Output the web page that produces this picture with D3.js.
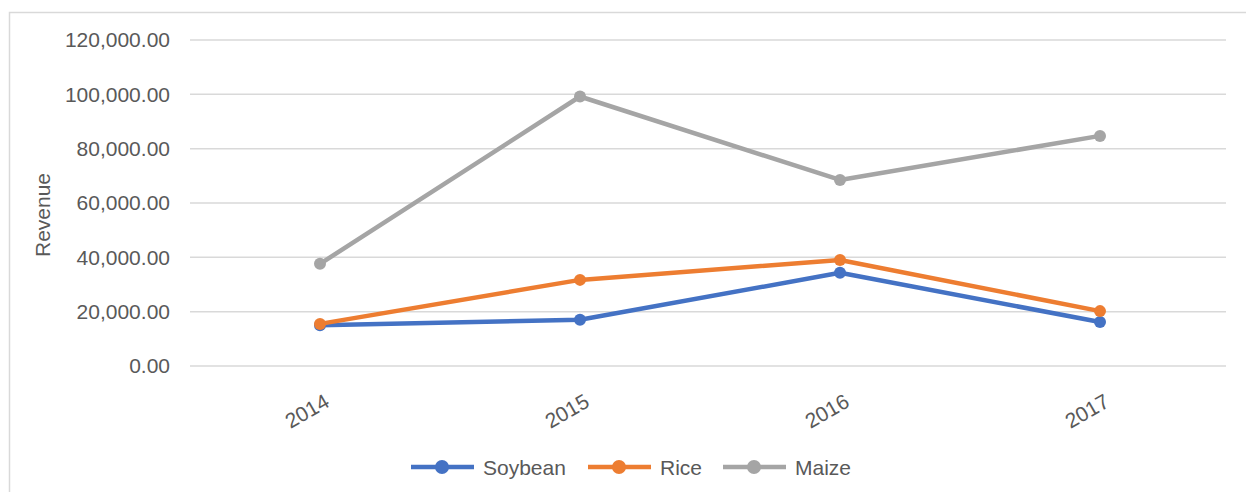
<!DOCTYPE html>
<html>
<head>
<meta charset="utf-8">
<script src="https://cdn.jsdelivr.net/npm/d3@7"></script>
<style>
  body { margin: 0; background: #fff; }
  svg text { font-family: "Liberation Sans", Arial, sans-serif; fill: #595959; }
</style>
</head>
<body>
<svg id="chart"></svg>
<script>
// values
const years = ['2014', '2015', '2016', '2017']
const soybean = [15000, 17000, 34300, 16200]
const rice = [15500, 31700, 39000, 20200]
const maize = [37600, 99200, 68500, 84700]
const yTicks = [0, 20000, 40000, 60000, 80000, 100000, 120000]

const series = [
  { name: 'Soybean', values: soybean, color: '#4472C4' },
  { name: 'Rice', values: rice, color: '#ED7D31' },
  { name: 'Maize', values: maize, color: '#A5A5A5' }
]

const width = 1246, height = 492
const svg = d3.select('#chart').attr('width', width).attr('height', height)

// chart border
svg.append('rect')
  .attr('x', 9.5).attr('y', 12.5)
  .attr('width', width).attr('height', height)
  .attr('fill', 'none').attr('stroke', '#d9d9d9').attr('stroke-width', 1.5)

const x = d3.scalePoint().domain(years).range([320, 1100])
const y = d3.scaleLinear().domain([0, 120000]).range([366, 40])

// gridlines
svg.append('g').selectAll('line').data(yTicks).join('line')
  .attr('x1', 190).attr('x2', 1226)
  .attr('y1', d => y(d)).attr('y2', d => y(d))
  .attr('stroke', '#d9d9d9').attr('stroke-width', 1.5)

// y axis labels
const yAxis = d3.axisLeft(y).tickValues(yTicks).tickSize(0).tickPadding(0)
  .tickFormat(d3.format(',.2f'))
const gy = svg.append('g').attr('transform', 'translate(170,0)').call(yAxis)
gy.select('.domain').remove()
gy.selectAll('text').attr('font-size', 21).attr('fill', '#595959')
  .attr('font-family', '"Liberation Sans", Arial, sans-serif')

// x axis labels, rotated
const xAxis = d3.axisBottom(x).tickSize(0).tickPadding(0)
const gx = svg.append('g').attr('transform', 'translate(0,393)').call(xAxis)
gx.select('.domain').remove()
gx.selectAll('text')
  .attr('font-size', 21).attr('fill', '#595959')
  .attr('font-family', '"Liberation Sans", Arial, sans-serif')
  .attr('text-anchor', 'end')
  .attr('dy', '0.7em')
  .attr('transform', 'translate(3,0) rotate(-30)')

// axis title
svg.append('text')
  .attr('transform', 'translate(50,215) rotate(-90)')
  .attr('text-anchor', 'middle')
  .attr('font-size', 21)
  .text('Revenue')

// lines
const line = d3.line().x((d, i) => x(years[i])).y(d => y(d))
const gs = svg.append('g').selectAll('g').data(series).join('g')
gs.append('path')
  .attr('d', d => line(d.values))
  .attr('fill', 'none')
  .attr('stroke', d => d.color)
  .attr('stroke-width', 4.5)
  .attr('stroke-linejoin', 'round')
gs.each(function(s) {
  d3.select(this).selectAll('circle').data(s.values).join('circle')
    .attr('cx', (d, i) => x(years[i]))
    .attr('cy', d => y(d))
    .attr('r', 6)
    .attr('fill', s.color)
})

// legend
const legendX = [411, 588, 723]
const lg = svg.append('g').selectAll('g').data(series).join('g')
  .attr('transform', (d, i) => `translate(${legendX[i]},467)`)
lg.append('line')
  .attr('x1', 0).attr('x2', 63)
  .attr('stroke', d => d.color).attr('stroke-width', 4.5)
lg.append('circle')
  .attr('cx', 31).attr('r', 7)
  .attr('fill', d => d.color)
lg.append('text')
  .attr('x', 72).attr('dy', '0.36em')
  .attr('font-size', 21)
  .text(d => d.name)
</script>
</body>
</html>
